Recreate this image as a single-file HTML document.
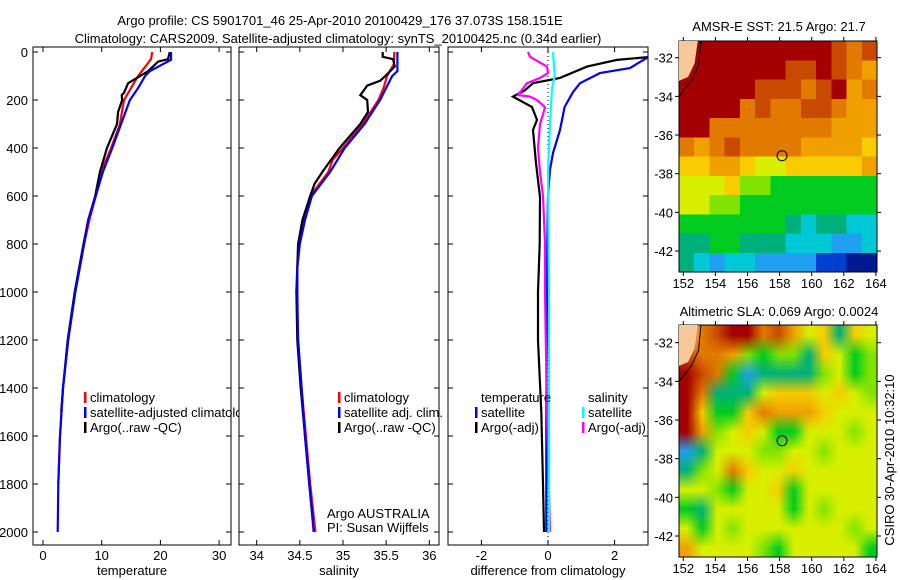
<!DOCTYPE html>
<html><head><meta charset="utf-8">
<style>
html,body{margin:0;padding:0;background:#fff;}
body{width:900px;height:580px;position:relative;overflow:hidden;font-family:"Liberation Sans",sans-serif;}
svg text{font-family:"Liberation Sans",sans-serif;font-size:13px;fill:#000;}
.map{position:absolute;overflow:hidden;}
.map canvas{position:absolute;left:0;top:0;}
</style></head>
<body>
<div class="map" id="map1" style="left:679px;top:41px;width:198px;height:231px;">
  <canvas id="c1" width="13" height="12" style="width:198px;height:231px;image-rendering:pixelated;"></canvas>
</div>
<div class="map" id="map2" style="left:679px;top:325px;width:198px;height:232px;">
  <canvas id="c2" width="13" height="12" style="width:198px;height:232px;"></canvas>
</div>
<svg id="chart" width="900" height="580" style="position:absolute;left:0;top:0">
  <defs><clipPath id="legclip"><rect x="33" y="47" width="206" height="500"/></clipPath></defs>
  <text x="340" y="25" text-anchor="middle">Argo profile: CS 5901701_46 25-Apr-2010 20100429_176 37.073S 158.151E</text>
  <text x="338" y="43" text-anchor="middle">Climatology: CARS2009. Satellite-adjusted climatology: synTS_20100425.nc (0.34d earlier)</text>
  <text x="779" y="31" text-anchor="middle">AMSR-E SST: 21.5 Argo: 21.7</text>
  <text x="779" y="316" text-anchor="middle">Altimetric SLA: 0.069 Argo: 0.0024</text>
  <text x="894" y="460" text-anchor="middle" transform="rotate(-90 894 460)">CSIRO 30-Apr-2010 10:32:10</text>
  <g id="g"></g>
</svg>
<script>
// ---------- data ----------
const tempClimDepth = [0,30,100,200,300,400,500,600,700,800,1000,1200,1400,1600,1800];
const tempClim = [18.6,18.4,16.2,13.8,13.1,11.6,9.9,9.0,7.9,7.0,5.5,4.3,3.4,2.9,2.6];
const tempSatDepth = [0,33,80,100,150,200,300,400,500,600,700,800,1000,1200,1400,1600,1800,2000];
const tempSat = [21.8,21.8,18.2,17.4,16.2,14.8,13.3,11.8,10.2,9.0,7.7,7.0,5.5,4.3,3.4,2.9,2.6,2.5];
const tempArgoDepth = [0,30,40,80,130,170,180,200,250,300,400,500,600,700,800,1000,1200,1400,1500];
const tempArgo = [21.6,21.3,19.6,17.9,14.5,13.8,13.4,13.5,12.8,12.6,10.9,9.7,8.9,7.7,6.9,5.4,4.2,3.4,3.1];

const salClimDepth = [0,50,100,150,200,300,400,450,500,600,700,800,900,1000,1100,1200,1400,1600,1800,2000];
const salClim = [35.595,35.59,35.51,35.47,35.41,35.23,35.0,34.88,34.83,34.62,34.54,34.49,34.47,34.47,34.47,34.48,34.52,34.57,34.62,34.68];
const salSatDepth = [0,80,100,200,300,400,500,600,700,800,900,1000,1200,1400,1600,1800,2000];
const salSat = [35.63,35.63,35.57,35.43,35.25,35.02,34.85,34.64,34.56,34.5,34.47,34.47,34.48,34.52,34.56,34.61,34.66];
const salArgoDepth = [0,20,30,60,90,120,140,180,200,250,300,350,400,500,550,600,700,800,1000,1200,1400,1600,1800,1950];
const salArgo = [35.46,35.46,35.58,35.6,35.52,35.43,35.28,35.2,35.28,35.29,35.2,35.08,34.96,34.76,34.67,34.62,34.53,34.48,34.46,34.47,34.51,34.56,34.61,34.65];

const dTempSatDepth = [0,30,67,88,130,167,229,325,421,490,600,800,1000,1500,2000];
const dTempSat = [3.3,2.9,2.46,1.56,0.96,0.75,0.5,0.36,0.15,0.06,0.0,-0.02,-0.03,-0.05,-0.05];
const dTempArgoDepth = [0,20,33,61,108,130,160,186,229,283,325,463,604,800,1000,1200,1500,1800,2000];
const dTempArgo = [3.4,3.1,2.07,1.17,0.36,-0.45,-0.7,-1.05,-0.48,-0.33,-0.45,-0.36,-0.24,-0.25,-0.3,-0.3,-0.2,-0.15,-0.12];
const dSalSatDepth = [0,100,150,300,500,1000,2000];
const dSalSat = [0.15,0.2,0.12,0.06,0.0,0.03,0.03];
const dSalArgoDepth = [0,20,61,88,108,130,179,186,200,230,260,300,400,500,600,800,1000,1500,2000];
const dSalArgo = [-0.6,-0.54,-0.03,0,-0.24,-0.63,-0.9,-0.54,-0.33,-0.09,-0.15,-0.24,-0.3,-0.24,-0.15,-0.09,-0.09,-0.03,0.06];

const depthTicks = [0,200,400,600,800,1000,1200,1400,1600,1800,2000];
const tempTicks = [0,10,20,30];
const salTicks = [34,34.5,35,35.5,36];
const diffTicks = [-2,0,2];
const lonTicks = [152,154,156,158,160,162,164];
const latTicks = [-32,-34,-36,-38,-40,-42];

const sstGrid = ["L000000000121","0000000110123","0000011121032","0000212211233","0022222222333","2321222233334","4433455444443","5554667777777","5566777777777","7777777898899","8877888999aa9","89a99aaaabbcc"];
const slaGrid = ["L210021354845","1223676684576","0127a88886576","0288854445456","0477423334555","0365457755565","a855566556555","8652455455555","5567554755555","7855555756555","5756555555565","3555567555557"];
const palette = {"0":"#a40000","1":"#c84a00","2":"#e27a00","3":"#f0a000","4":"#f8cc00","5":"#d8f000","6":"#80e400","7":"#00cc20","8":"#00b07a","9":"#00c8d4","a":"#20a0f0","b":"#0040d0","c":"#001890","L":"#f8c896"};
const argoLon = 158.151, argoLat = -37.073;

// ---------- helpers ----------
const NS = "http://www.w3.org/2000/svg";
const G = document.getElementById('g');
function mk(tag, attrs, parent){const e=document.createElementNS(NS,tag);for(const k in attrs)e.setAttribute(k,attrs[k]);(parent||G).appendChild(e);return e;}
const yD = d => 52 + d*0.24;
const panels = [
  {name:'temperature', x0:33, x1:231, sx:v=>43+5.87*v, ticks:tempTicks, label:'temperature'},
  {name:'salinity', x0:239, x1:439, sx:v=>256.7+86.3*(v-34), ticks:salTicks, label:'salinity'},
  {name:'difference', x0:448, x1:648, sx:v=>548+33.3*v, ticks:diffTicks, label:'difference from climatology'}
];
const BOT=545;
panels.forEach((p,i)=>{
  const fr = mk('rect',{x:p.x0,y:47,width:p.x1-p.x0,height:BOT-47,fill:'#fff',stroke:'#000','stroke-width':1});
  
  
  const cp = mk('clipPath',{id:'clip'+i});
  mk('rect',{x:p.x0,y:47,width:p.x1-p.x0,height:BOT-47},cp);
  p.clip='url(#clip'+i+')';
  depthTicks.forEach(d=>{
    const y=yD(d);
    const t1=mk('line',{x1:p.x0,x2:p.x0+5,y1:y,y2:y,stroke:'#000'});
    
    
    mk('line',{x1:p.x1-5,x2:p.x1,y1:y,y2:y,stroke:'#000'});
    if(i===0){const t=mk('text',{x:p.x0-5,y:y+5,'text-anchor':'end'});t.textContent=d;
      
      }
  });
  p.ticks.forEach(v=>{
    const x=p.sx(v);
    mk('line',{x1:x,x2:x,y1:47,y2:52,stroke:'#000'});
    const tk=mk('line',{x1:x,x2:x,y1:BOT-5,y2:BOT,stroke:'#000'});
    
    
    const t=mk('text',{x:x,y:BOT+15,'text-anchor':'middle'});t.textContent=v;
    
    
  });
  const xl=mk('text',{x:(p.x0+p.x1)/2,y:575,'text-anchor':'middle'});xl.textContent=p.label;
  
  
});
const zl = mk('line',{x1:panels[2].sx(0),x2:panels[2].sx(0),y1:52,y2:BOT,stroke:'#000','stroke-dasharray':'1,3'});



function series(p, depths, vals, color, name){
  const pts = depths.map((d,k)=>p.sx(vals[k]).toFixed(1)+','+yD(d).toFixed(1)).join(' ');
  const l = mk('polyline',{points:pts,fill:'none',stroke:color,'stroke-width':2.2,'clip-path':p.clip});
  
  
}
series(panels[0],tempClimDepth,tempClim,'#ff0000','temp-climatology-line');
series(panels[0],tempArgoDepth,tempArgo,'#000','temp-argo-line');
series(panels[0],tempSatDepth,tempSat,'#0000ff','temp-satellite-line');
series(panels[1],salClimDepth,salClim,'#ff0000','sal-climatology-line');
series(panels[1],salArgoDepth,salArgo,'#000','sal-argo-line');
series(panels[1],salSatDepth,salSat,'#0000ff','sal-satellite-line');
series(panels[2],dTempArgoDepth,dTempArgo,'#000','diff-temp-argo-line');
series(panels[2],dTempSatDepth,dTempSat,'#0000ff','diff-temp-satellite-line');
series(panels[2],dSalArgoDepth,dSalArgo,'#ff00ff','diff-sal-argo-line');
series(panels[2],dSalSatDepth,dSalSat,'#00ffff','diff-sal-satellite-line');

function legend(x,y,color,text,clipId){
  if(color){const b=mk('rect',{x:x-6,y:y-10,width:2.5,height:11,fill:color});
    
    }
  const t=mk('text',{x:x,y:y});t.textContent=text;
  if(clipId) t.setAttribute('clip-path',clipId);
  
  
}
legend(90,402,'#ff0000','climatology');
legend(90,417,'#0000ff','satellite-adjusted climatology','url(#legclip)');
legend(90,432,'#000','Argo(..raw -QC)');
legend(344,402,'#ff0000','climatology');
legend(344,417,'#0000ff','satellite adj. clim.');
legend(344,432,'#000','Argo(..raw -QC)');
legend(481,402,null,'temperature');
legend(481,417,'#0000ff','satellite');
legend(481,432,'#000','Argo(-adj)');
legend(588,402,null,'salinity');
legend(588,417,'#00ffff','satellite');
legend(588,432,'#ff00ff','Argo(-adj)');
const a1=mk('text',{x:327,y:518});a1.textContent='Argo AUSTRALIA';


const a2=mk('text',{x:327,y:532});a2.textContent='PI: Susan Wijffels';



// ---------- maps ----------
function drawGrid(id,grid){
  const ctx=document.getElementById(id).getContext('2d');
  grid.forEach((row,r)=>{for(let c=0;c<row.length;c++){ctx.fillStyle=palette[row[c]];ctx.fillRect(c,r,1,1);}});
}
drawGrid('c1',sstGrid);
drawGrid('c2',slaGrid);
const maps=[{top:41,bot:272,lat0:57.7},{top:325,bot:557,lat0:342.7}];
const lonX = lon => 683.3+16.05*(lon-152);
maps.forEach((m,i)=>{
  const latY = lat => m.lat0 + 19.33*(-32-lat);
  const fr=mk('rect',{x:679,y:m.top,width:198,height:m.bot-m.top,fill:'none',stroke:'#000'});
  
  
  const land=mk('path',{d:`M679,${m.top} L${lonX(152.9)},${m.top} L${lonX(152.7)},${latY(-32.3)} L${lonX(152.3)},${latY(-33)} L679,${latY(-33.2)} Z`,fill:'#f8c896'});
  
  
  const coast=mk('polyline',{points:`${lonX(153.1)},${m.top} ${lonX(152.95)},${latY(-32.4)} ${lonX(152.5)},${latY(-33.2)} 679,${latY(-34)}`,fill:'none',stroke:'#000'});
  
  
  lonTicks.forEach(v=>{
    const x=lonX(v);
    mk('line',{x1:x,x2:x,y1:m.top-4,y2:m.top,stroke:'#000'});
    mk('line',{x1:x,x2:x,y1:m.bot,y2:m.bot+4,stroke:'#000'});
    const t=mk('text',{x:x,y:m.bot+16,'text-anchor':'middle'});t.textContent=v;
    
    
  });
  latTicks.forEach(v=>{
    const y=latY(v);
    mk('line',{x1:675,x2:679,y1:y,y2:y,stroke:'#000'});
    mk('line',{x1:877,x2:881,y1:y,y2:y,stroke:'#000'});
    const t=mk('text',{x:673,y:y+5,'text-anchor':'end'});t.textContent=v;
    
    
  });
  const c=mk('circle',{cx:lonX(argoLon),cy:latY(argoLat),r:5,fill:'none',stroke:'#000'});
  
  
});
</script>
</body></html>
